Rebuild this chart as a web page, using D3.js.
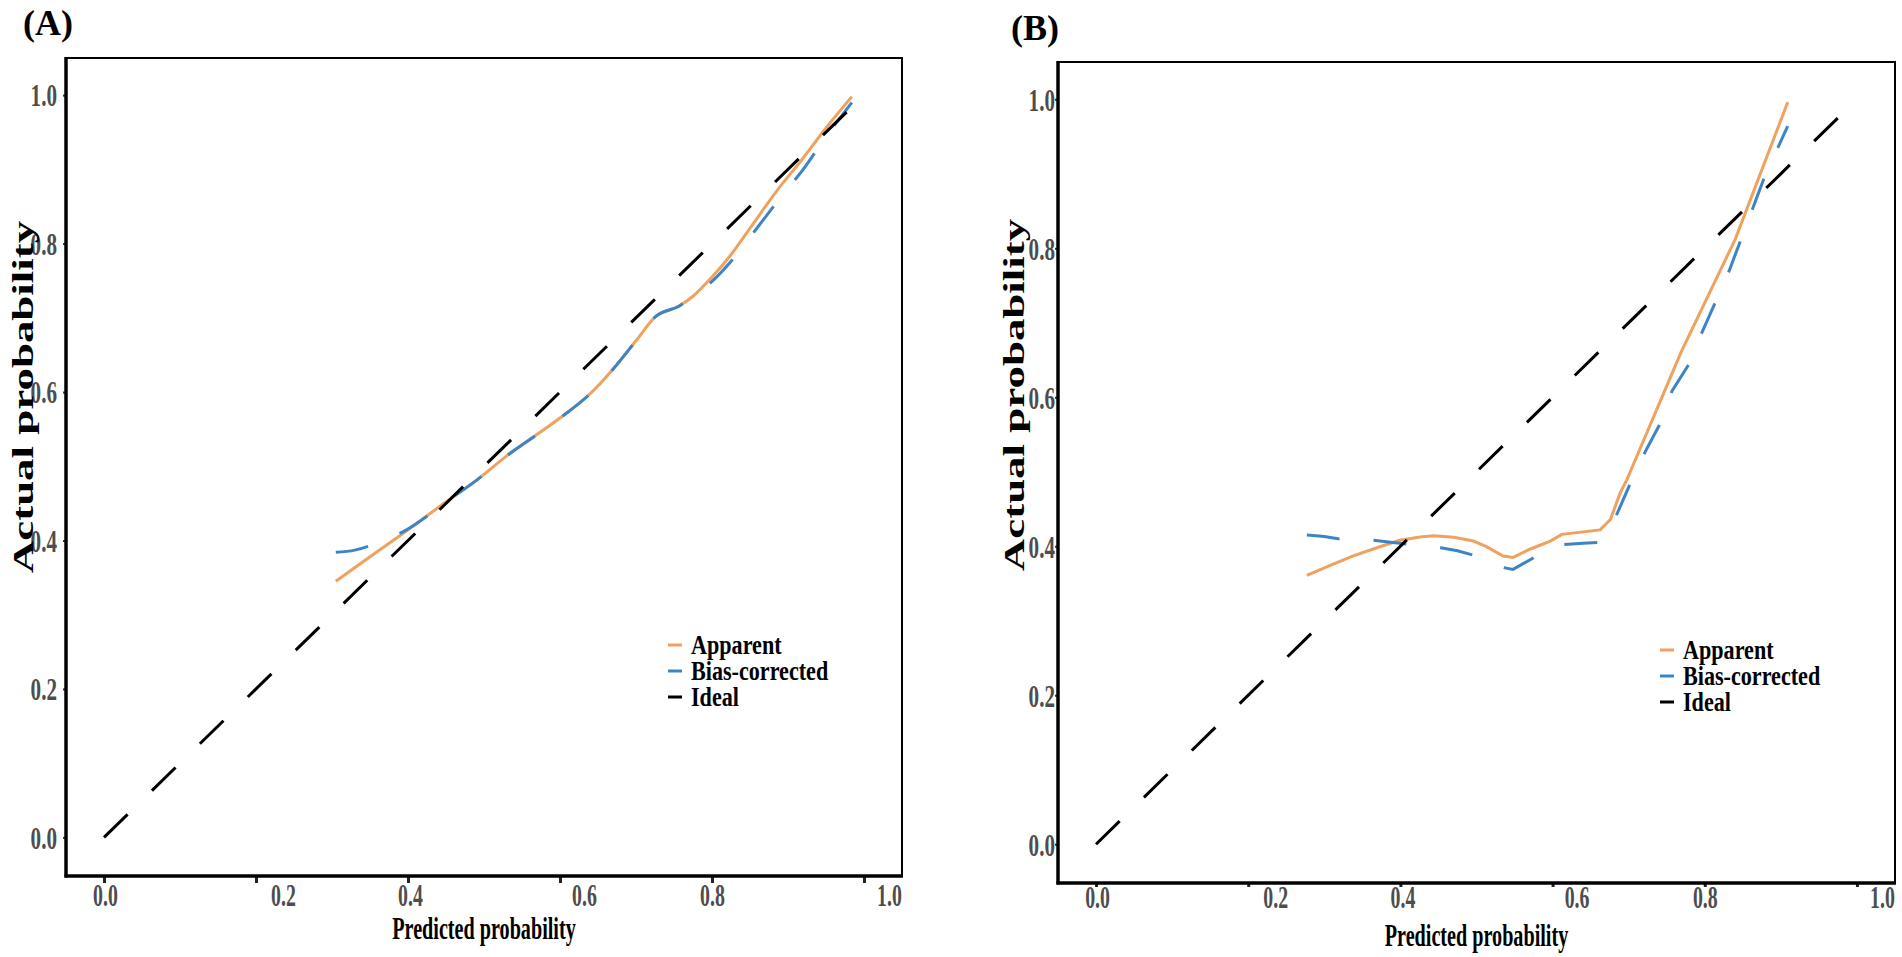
<!DOCTYPE html>
<html>
<head>
<meta charset="utf-8">
<script src="https://cdn.jsdelivr.net/npm/d3@7"></script>
<style>
  body { margin: 0; background: #fff; }
  svg { display: block; }
</style>
</head>
<body>
<div id="chart"></div>
<script>
// shared axis ticks and legend entries
var tickValues = [0, 0.2, 0.4, 0.6, 0.8, 1.0];
var tickLabels = ["0.0", "0.2", "0.4", "0.6", "0.8", "1.0"];
var legendLabels = ["Apparent", "Bias-corrected", "Ideal"];

// panel (A) curves, [predicted, actual]
var apparentA = [
  [0.305, 0.345], [0.35, 0.378], [0.39, 0.407], [0.41, 0.422], [0.45, 0.452],
  [0.49, 0.481], [0.53, 0.514], [0.57, 0.543], [0.60, 0.565], [0.64, 0.598],
  [0.67, 0.631], [0.70, 0.669], [0.725, 0.701], [0.757, 0.716], [0.775, 0.729],
  [0.80, 0.755], [0.825, 0.785], [0.855, 0.828], [0.886, 0.872], [0.919, 0.914],
  [0.951, 0.957], [0.984, 0.998]
];
var biasA = [
  [0.305, 0.384], [0.33, 0.387], [0.35, 0.393], [0.37, 0.401], [0.39, 0.41],
  [0.41, 0.422], [0.45, 0.452], [0.49, 0.481], [0.53, 0.514], [0.57, 0.543],
  [0.60, 0.565], [0.64, 0.598], [0.67, 0.631], [0.70, 0.669], [0.725, 0.701],
  [0.757, 0.716], [0.775, 0.729], [0.80, 0.749], [0.83, 0.782], [0.86, 0.822],
  [0.89, 0.862], [0.92, 0.9], [0.95, 0.944], [0.984, 0.99]
];
var idealA = [[0, 0], [0.983, 0.983]];

// panel (B) curves
var apparentB = [
  [0.277, 0.361], [0.307, 0.374], [0.338, 0.387], [0.369, 0.398], [0.399, 0.408],
  [0.426, 0.4125], [0.443, 0.414], [0.47, 0.412], [0.496, 0.407], [0.513, 0.3995],
  [0.535, 0.387], [0.548, 0.385], [0.57, 0.396], [0.597, 0.407], [0.612, 0.416],
  [0.6625, 0.422], [0.676, 0.436], [0.689, 0.472], [0.698, 0.49], [0.769, 0.661],
  [0.84, 0.812], [0.909, 0.996]
];
var biasB = [
  [0.277, 0.415], [0.30, 0.413], [0.318, 0.41], [0.34, 0.409], [0.365, 0.408],
  [0.39, 0.405], [0.408, 0.403], [0.43, 0.401], [0.453, 0.398], [0.475, 0.394],
  [0.496, 0.388], [0.515, 0.38], [0.5375, 0.371], [0.548, 0.369], [0.576, 0.385],
  [0.59, 0.395], [0.61, 0.402], [0.64, 0.404], [0.66, 0.405], [0.6725, 0.42],
  [0.6845, 0.443], [0.7016, 0.483], [0.7213, 0.526], [0.741, 0.564], [0.757, 0.6085],
  [0.7805, 0.6466], [0.7924, 0.678], [0.8146, 0.729], [0.832, 0.7695], [0.848, 0.813],
  [0.8636, 0.855], [0.879, 0.897], [0.897, 0.937], [0.909, 0.964]
];
var idealB = [[0, 0], [0.98, 0.98]];

// styling
var colors = ["#EFA15E", "#3D84C6", "#000000"];
var serif = "'Liberation Serif', 'Times New Roman', serif";
var xLabelShift = [1, 27, 2, 24, 0, 25];

var svg = d3.select("#chart")
  .append("svg")
  .attr("width", 1902)
  .attr("height", 957);

svg.append("rect")
  .attr("width", 1902)
  .attr("height", 957)
  .attr("fill", "#fff");

drawPanel({
  tag: "(A)", tagX: 23, tagY: 35,
  left: 66, top: 58, right: 902, bottom: 876,
  xTickLen: 7, yLabelGap: 9, xLabelY: 30,
  titleX: 33, titleY: 397, xTitleY: 939,
  legendX: 668, legendY: 645,
  curve: d3.curveMonotoneX,
  series: [apparentA, biasA, idealA]
});

drawPanel({
  tag: "(B)", tagX: 1011, tagY: 40,
  left: 1058, top: 62, right: 1895, bottom: 883,
  xTickLen: 4, yLabelGap: 3, xLabelY: 25,
  titleX: 1024, titleY: 395, xTitleY: 946,
  legendX: 1660, legendY: 650,
  curve: d3.curveLinear,
  series: [apparentB, biasB, idealB]
});

function drawPanel(p) {
  var x = d3.scaleLinear().domain([-0.05, 1.05]).range([p.left, p.right]);
  var y = d3.scaleLinear().domain([-0.052, 1.05]).range([p.bottom, p.top]);

  // panel border: thin top/right, heavier axis lines left/bottom
  svg.append("rect")
    .attr("x", p.left).attr("y", p.top)
    .attr("width", p.right - p.left).attr("height", p.bottom - p.top)
    .attr("fill", "none").attr("stroke", "#000").attr("stroke-width", 2);

  // x axis
  var gx = svg.append("g")
    .attr("transform", `translate(0, ${p.bottom})`)
    .call(d3.axisBottom(x).tickValues(tickValues)
      .tickFormat((d, i) => tickLabels[i]).tickSizeOuter(0).tickSize(p.xTickLen));
  gx.select(".domain").remove();
  gx.selectAll(".tick line").attr("stroke", "#222").attr("stroke-width", 3);
  gx.selectAll(".tick text")
    .attr("y", p.xLabelY).attr("dy", null)
    .attr("transform", (d, i) => `translate(${xLabelShift[i]},0) scale(0.62,1)`)
    .style("font-family", serif).style("font-size", "32px")
    .style("font-weight", "bold").attr("fill", "#4d4d4d");

  // y axis
  var gy = svg.append("g")
    .attr("transform", `translate(${p.left}, 0)`)
    .call(d3.axisLeft(y).tickValues(tickValues)
      .tickFormat((d, i) => tickLabels[i]).tickSizeOuter(0).tickSize(3));
  gy.select(".domain").remove();
  gy.selectAll(".tick line").attr("stroke", "#333").attr("stroke-width", 2);
  gy.selectAll(".tick text")
    .attr("x", -p.yLabelGap / 0.66).attr("dy", "0.34em")
    .attr("transform", "scale(0.66,1)")
    .style("font-family", serif).style("font-size", "32px")
    .style("font-weight", "bold").attr("fill", "#4d4d4d");

  svg.append("line")
    .attr("x1", p.left).attr("x2", p.left)
    .attr("y1", p.top - 1).attr("y2", p.bottom + 1.5)
    .attr("stroke", "#000").attr("stroke-width", 3.5);
  svg.append("line")
    .attr("x1", p.left - 1.5).attr("x2", p.right + 1)
    .attr("y1", p.bottom).attr("y2", p.bottom)
    .attr("stroke", "#000").attr("stroke-width", 3.5);

  // curves: apparent, bias-corrected, ideal on top
  var line = d3.line()
    .x(d => x(d[0]))
    .y(d => y(d[1]));

  p.series.forEach(function(s, i) {
    svg.append("path")
      .datum(s)
      .attr("d", line.curve(i === 2 ? d3.curveLinear : p.curve))
      .attr("fill", "none")
      .attr("stroke", colors[i])
      .attr("stroke-width", 3)
      .attr("stroke-dasharray", i === 0 ? null : "33,34");
  });

  // legend
  legendLabels.forEach(function(lab, i) {
    var ly = p.legendY + i * 26;
    svg.append("line")
      .attr("x1", p.legendX).attr("x2", p.legendX + 14)
      .attr("y1", ly).attr("y2", ly)
      .attr("stroke", colors[i]).attr("stroke-width", 3);
    svg.append("text")
      .attr("transform", `translate(${p.legendX + 23}, ${ly + 9}) scale(0.82,1)`)
      .style("font-family", serif).style("font-size", "27px")
      .style("font-weight", "bold")
      .text(lab);
  });

  // axis titles
  svg.append("text")
    .attr("transform", `translate(${(p.left + p.right) / 2}, ${p.xTitleY}) scale(0.63,1)`)
    .attr("text-anchor", "middle")
    .style("font-family", serif).style("font-size", "32px")
    .style("font-weight", "bold")
    .text("Predicted probability");

  svg.append("text")
    .attr("transform", `translate(${p.titleX}, ${p.titleY}) rotate(-90) scale(1.55,1)`)
    .attr("text-anchor", "middle")
    .style("font-family", serif).style("font-size", "29px")
    .style("font-weight", "bold")
    .text("Actual probability");

  // panel tag
  svg.append("text")
    .attr("x", p.tagX).attr("y", p.tagY)
    .style("font-family", serif).style("font-size", "36px")
    .style("font-weight", "bold")
    .text(p.tag);
}
</script>
</body>
</html>
